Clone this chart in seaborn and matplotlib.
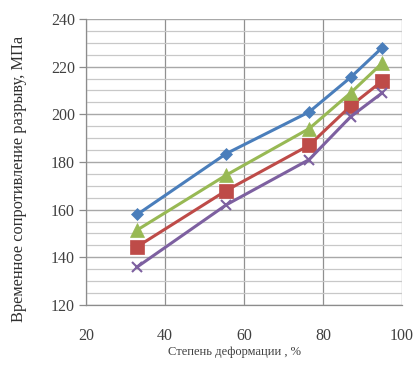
import matplotlib
matplotlib.use("Agg")
import matplotlib.pyplot as plt
import seaborn as sns
import pandas as pd
from matplotlib.ticker import MultipleLocator

deformation = [33, 55.5, 76.5, 87, 95]
series1 = [158, 183.5, 201, 215.5, 228]   # blue
series2 = [144.5, 168, 187, 203.5, 214]   # red
series3 = [151.5, 174.5, 194, 209, 221.5] # green
series4 = [136, 162, 181, 199, 209]       # purple
series_names = ["1", "2", "3", "4"]

xlabel = "Степень деформации , %"
ylabel = "Временное сопротивление разрыву, МПа"

colors = ["#4A7EBB", "#BE4B48", "#98B954", "#7D60A0"]
markers = ["D", "s", "^", "x"]
msizes = [6.5, 9.5, 9.5, 7]

sns.set_theme(style="white")
plt.rcParams['font.family'] = ['Liberation Serif', 'DejaVu Serif']

fig = plt.figure(figsize=(4.2, 3.66), dpi=100)
ax = fig.add_axes([0.205, 0.167, 0.752, 0.781])

data = pd.DataFrame({
    "x": deformation * 4,
    "y": series1 + series2 + series3 + series4,
    "s": sum([[n] * len(deformation) for n in series_names], []),
})

for name, c, m, ms in zip(series_names, colors, markers, msizes):
    sub = data[data["s"] == name]
    sns.lineplot(data=sub, x="x", y="y", ax=ax, color=c, marker=m,
                 markersize=ms, linewidth=2.2, markeredgecolor=c,
                 markeredgewidth=1.5 if m == "x" else 0.5, legend=False)

ax.set_xlim(20, 100)
ax.set_ylim(120, 240)
ax.xaxis.set_major_locator(MultipleLocator(20))
ax.yaxis.set_major_locator(MultipleLocator(20))
ax.yaxis.set_minor_locator(MultipleLocator(5))
ax.grid(which="major", axis="x", color="#909090", linewidth=0.9)
ax.grid(which="major", axis="y", color="#a8a8a8", linewidth=1.0)
ax.grid(which="minor", axis="y", color="#c8c8c8", linewidth=0.9)
ax.set_axisbelow(True)
for s in ["top", "right"]:
    ax.spines[s].set_visible(False)
for s in ["left", "bottom"]:
    ax.spines[s].set_color("#8c8c8c")
    ax.spines[s].set_linewidth(0.9)

ax.tick_params(axis="y", which="major", left=True, length=5, width=0.9,
               color="#8c8c8c", labelsize=11.5, pad=3, labelcolor="#404040")
ax.tick_params(axis="y", which="minor", left=False)
ax.tick_params(axis="x", which="major", bottom=False, labelsize=11.5, pad=11,
               labelcolor="#404040")

ax.set_xlabel(xlabel, fontsize=9, color="#404040")
ax.xaxis.set_label_coords(0.47, -0.145)
ax.set_ylabel(ylabel, fontsize=11.8, color="#303030")
ax.yaxis.set_label_coords(-0.188, 0.44)

fig.savefig("out.png", dpi=100)
